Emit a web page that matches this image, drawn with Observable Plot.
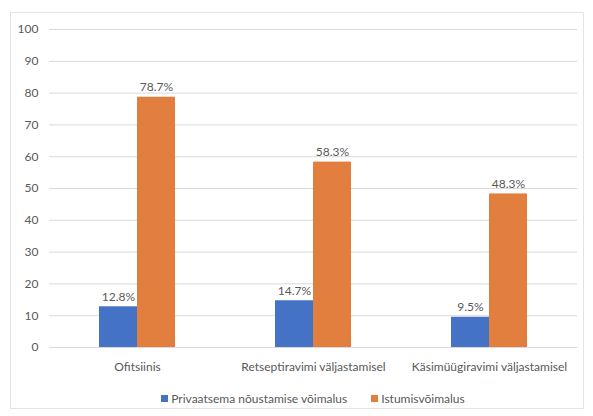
<!DOCTYPE html>
<html>
<head>
<meta charset="utf-8">
<script src="https://cdn.jsdelivr.net/npm/d3@7"></script>
<script src="https://cdn.jsdelivr.net/npm/@observablehq/plot@0.6"></script>
<style>
  body { margin: 0; background: #fff; font-family: Lato, "Open Sans", sans-serif; }
  #wrap { position: relative; width: 593px; height: 416px; }
  #frame { position: absolute; left: 10px; top: 12px; width: 574px; height: 397px; border: 1px solid #e3e3e3; box-sizing: border-box; }
  #chart { position: absolute; left: 0; top: 0; }
  #legend { position: absolute; left: 49px; width: 528px; top: 391px; display: flex; justify-content: center; gap: 24px; font-size: 12px; color: #595959; }
  #legend span.item { display: flex; align-items: center; gap: 3px; }
  #legend i { display: inline-block; width: 7px; height: 7px; }
</style>
</head>
<body>
<div id="wrap">
  <div id="frame"></div>
  <div id="chart"></div>
  <div id="legend"></div>
</div>
<script>
// Categories and series
const categories = ["Ofitsiinis", "Retseptiravimi väljastamisel", "Käsimüügiravimi väljastamisel"];
const seriesNames = ["Privaatsema nõustamise võimalus", "Istumisvõimalus"];
const privaatsus = [12.8, 14.7, 9.5];
const istumine = [78.7, 58.3, 48.3];
const yTicks = [0, 10, 20, 30, 40, 50, 60, 70, 80, 90, 100];
const colors = ["#4472C4", "#E27F3F"];

const rows = [];
categories.forEach((c, i) => {
  rows.push({category: c, series: seriesNames[0], value: privaatsus[i]});
  rows.push({category: c, series: seriesNames[1], value: istumine[i]});
});

const chart = Plot.plot({
  width: 593,
  height: 375,
  marginLeft: 49,
  marginRight: 16,
  marginTop: 29,
  marginBottom: 28,
  style: {fontFamily: "Lato, 'Open Sans', sans-serif", fontSize: "12px", color: "#595959", background: "transparent"},
  fx: {domain: categories, padding: 0, label: null, tickSize: 0, tickPadding: 15},
  x: {domain: seriesNames, axis: null, paddingInner: 0, paddingOuter: 1.29},
  y: {domain: [0, 100], ticks: yTicks, label: null, tickSize: 0, tickPadding: 11},
  color: {domain: seriesNames, range: colors},
  marks: [
    Plot.gridY(yTicks, {stroke: "#d9d9d9", strokeOpacity: 1, strokeWidth: 1}),
    Plot.barY(rows, {fx: "category", x: "series", y: "value", fill: "series", inset: 0}),
    Plot.text(rows, {fx: "category", x: "series", y: "value", text: d => d.value.toFixed(1) + "%", dy: -10, fill: "#595959", fontSize: 12})
  ]
});
document.getElementById("chart").appendChild(chart);

const legend = document.getElementById("legend");
seriesNames.forEach((name, i) => {
  const item = document.createElement("span");
  item.className = "item";
  const sw = document.createElement("i");
  sw.style.background = colors[i];
  item.appendChild(sw);
  item.appendChild(document.createTextNode(name));
  legend.appendChild(item);
});
</script>
</body>
</html>
